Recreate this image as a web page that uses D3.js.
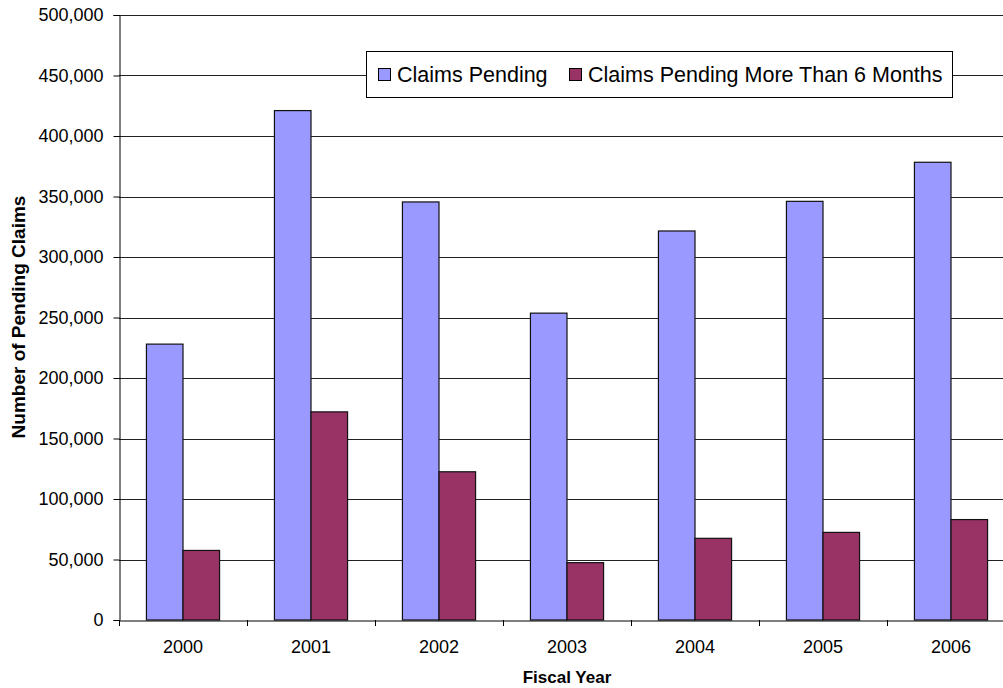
<!DOCTYPE html>
<meta charset="utf-8">
<style>
body { margin: 0; background: #fff; }
svg text { font-family: "Liberation Sans", Arial, sans-serif; fill: #000; }
.axis text { font-size: 18px; }
.title { font-size: 17px; font-weight: bold; }
.ytitle { font-size: 19px; }
.legend text { font-size: 21.5px; }
</style>
<body>
<script src="https://d3js.org/d3.v7.min.js"></script>
<script>
// fiscal years and the two series
var years = ["2000", "2001", "2002", "2003", "2004", "2005", "2006"];
var seriesNames = ["Claims Pending", "Claims Pending More Than 6 Months"];
var pending = [228000, 421000, 345500, 253600, 321500, 346000, 378300];
var pendingOver6 = [57500, 172000, 122500, 47400, 67500, 72400, 83000];
var yTicks = [0, 50000, 100000, 150000, 200000, 250000, 300000, 350000, 400000, 450000, 500000];
var colors = ["#9999ff", "#993366"];

var rows = years.map(function(y, i) {
  return { year: y, values: [pending[i], pendingOver6[i]] };
});

var svg = d3.select("body").append("svg")
    .attr("width", 1003)
    .attr("height", 688);

var plotLeft = 119, plotTop = 15, plotBottom = 620, plotRight = 1015;

var x0 = d3.scaleBand().domain(years).range([plotLeft, plotRight]);
var x1 = d3.scaleBand().domain([0, 1]).range([0, x0.bandwidth()]).paddingOuter(0.75);
var y = d3.scaleLinear().domain([0, 500000]).range([plotBottom, plotTop]);

// gridlines
svg.append("g")
  .selectAll("line")
  .data(yTicks.slice(1))
  .enter().append("line")
    .attr("x1", plotLeft).attr("x2", 1003)
    .attr("y1", function(d) { return Math.round(y(d)) + 0.5; })
    .attr("y2", function(d) { return Math.round(y(d)) + 0.5; })
    .attr("stroke", "#222")
    .attr("stroke-width", 1);

// bars
var groups = svg.append("g")
  .selectAll("g")
  .data(rows)
  .enter().append("g")
    .attr("transform", function(d) { return "translate(" + x0(d.year) + ",0)"; });

groups.selectAll("rect")
  .data(function(d) { return d.values; })
  .enter().append("rect")
    .attr("x", function(d, i) { return x1(i); })
    .attr("y", function(d) { return y(d); })
    .attr("width", x1.bandwidth())
    .attr("height", function(d) { return plotBottom - y(d); })
    .attr("fill", function(d, i) { return colors[i]; })
    .attr("stroke", "#111")
    .attr("stroke-width", 1.2);

// y axis
var yAxis = svg.append("g")
    .attr("class", "axis")
    .attr("transform", "translate(" + (plotLeft + 0.5) + ",0)")
    .call(d3.axisLeft(y).tickValues(yTicks).tickFormat(d3.format(",")).tickSize(6).tickPadding(10));
yAxis.select(".domain").attr("stroke", "#000");

// x axis
var xAxis = svg.append("g")
    .attr("class", "axis")
    .attr("transform", "translate(0," + (plotBottom + 0.5) + ")")
    .call(d3.axisBottom(x0).tickSize(0).tickPadding(20));
xAxis.select(".domain").attr("stroke", "#000");

// tick marks between categories
svg.append("g")
  .selectAll("line")
  .data(years)
  .enter().append("line")
    .attr("x1", function(d) { return Math.round(x0(d)) + 0.5; })
    .attr("x2", function(d) { return Math.round(x0(d)) + 0.5; })
    .attr("y1", plotBottom).attr("y2", plotBottom + 6)
    .attr("stroke", "#000");

// axis titles
svg.append("text")
    .attr("class", "title")
    .attr("x", 567).attr("y", 683)
    .attr("text-anchor", "middle")
    .text("Fiscal Year");

svg.append("text")
    .attr("class", "title ytitle")
    .attr("transform", "translate(25,317) rotate(-90)")
    .attr("text-anchor", "middle")
    .text("Number of Pending Claims");

// legend
var legend = svg.append("g").attr("class", "legend");
legend.append("rect")
    .attr("x", 366.5).attr("y", 51.5)
    .attr("width", 586).attr("height", 46)
    .attr("fill", "#fff")
    .attr("stroke", "#000");

var legendX = [378, 569];
seriesNames.forEach(function(name, i) {
  legend.append("rect")
      .attr("x", legendX[i] + 0.5).attr("y", 68.5)
      .attr("width", 12).attr("height", 12)
      .attr("fill", colors[i])
      .attr("stroke", "#000");
  legend.append("text")
      .attr("x", legendX[i] + 19).attr("y", 82)
      .text(name);
});
</script>
</body>
